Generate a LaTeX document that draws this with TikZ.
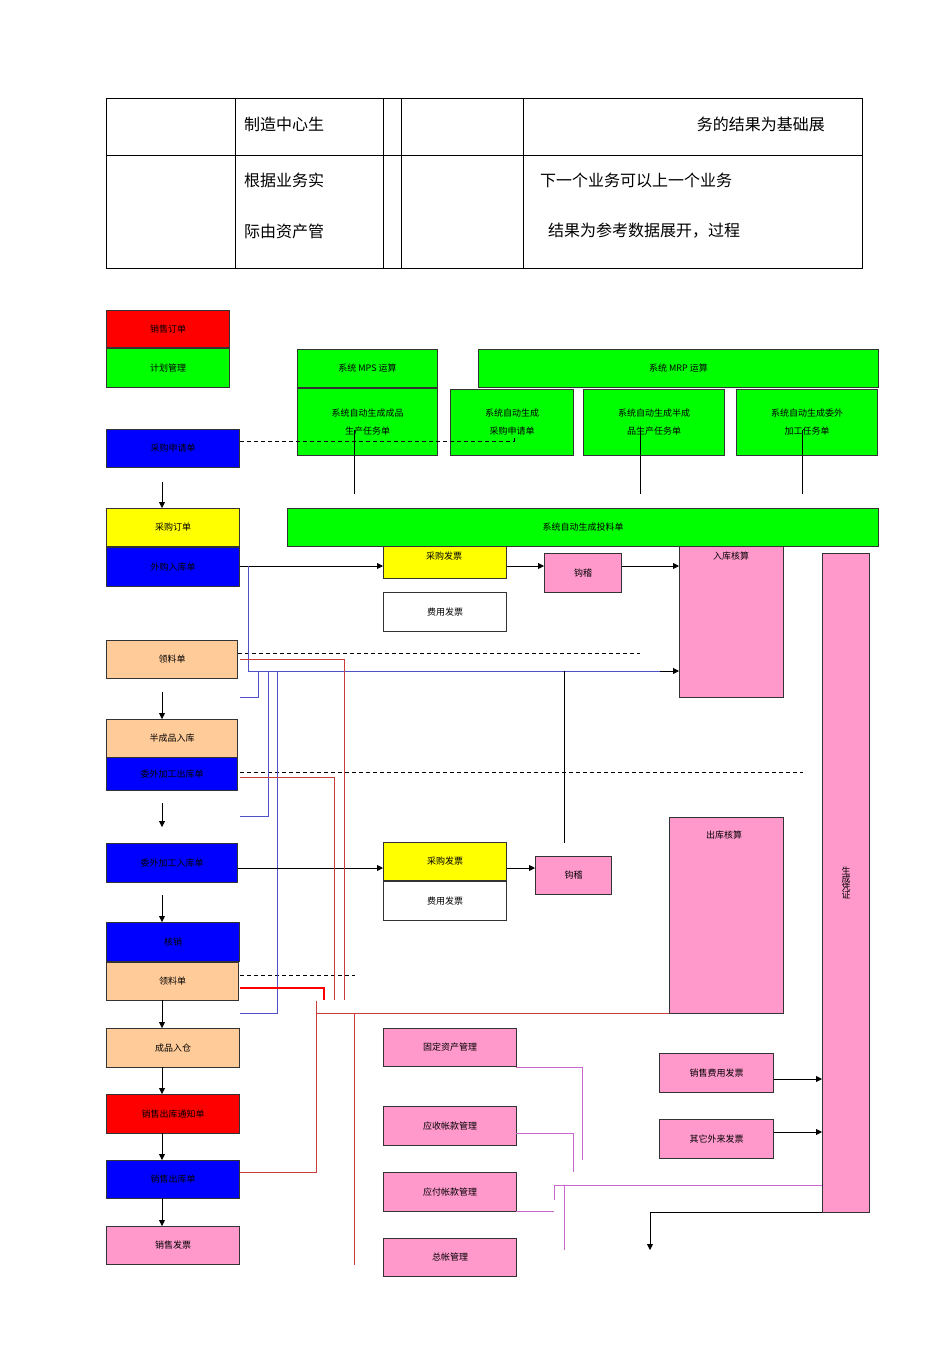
\documentclass[tikz,border=0pt]{standalone}
\usepackage{fontspec}
\setmainfont{Noto Sans CJK SC}
\usetikzlibrary{arrows.meta}
\definecolor{gr}{RGB}{0,255,0}
\definecolor{bl}{RGB}{0,0,255}
\definecolor{ye}{RGB}{255,255,0}
\definecolor{pe}{RGB}{255,204,153}
\definecolor{pk}{RGB}{255,153,204}
\definecolor{rd}{RGB}{255,0,0}
\definecolor{vl}{RGB}{204,102,204}
\definecolor{bline}{RGB}{80,80,200}
\definecolor{rline}{RGB}{200,60,60}
\begin{document}
\begin{tikzpicture}[x=1pt,y=-1pt,
 bx/.style={draw=black!80,line width=1pt,inner sep=0pt,anchor=north west,font=\fontsize{9}{10}\selectfont,align=center},
 arr/.style={-{Triangle[length=6pt,width=6pt]},line width=0.8pt},
 dsh/.style={dashed,line width=1pt,dash pattern=on 4pt off 3pt},
 tt/.style={font=\fontsize{16}{18}\selectfont,inner sep=0pt}]
\useasboundingbox (0,0) rectangle (950,1345);
% table
\draw[line width=0.6pt] (106,98) rectangle (862,268);
\draw[line width=0.6pt] (106,155) -- (862,155);
\foreach \x in {235,383,401,523} \draw[line width=0.6pt] (\x,98) -- (\x,268);
\node[tt,anchor=west] (t1) at (244,124) {制造中心生};
\node[tt,anchor=west] (t2) at (244,180) {根据业务实};
\node[tt,anchor=west] (t3) at (244,231) {际由资产管};
\node[tt,anchor=east] (t4) at (825,124) {务的结果为基础展};
\node[tt,anchor=west] (t5) at (540,180) {下一个业务可以上一个业务};
\node[tt,anchor=west] (t6) at (548,231) {结果为参考数据展开，过程};
% left column
\newcommand{\bxx}[7]{\node[bx,fill=#2,minimum width=#5-#3,minimum height=#6-#4] (#1) at (#3,#4) {#7};}
\bxx{so}{rd}{106}{310}{229}{347}{销售订单}
\bxx{jh}{gr}{106}{348}{229}{387}{计划管理}
\bxx{sq}{bl}{106}{429}{239}{467}{采购申请单}
\bxx{cd}{ye}{106}{508}{239}{546}{采购订单}
\bxx{wg}{bl}{106}{547}{239}{586}{外购入库单}
\bxx{ll}{pe}{106}{640}{237}{678}{领料单}
\bxx{bc}{pe}{106}{719}{237}{757}{半成品入库}
\bxx{wc}{bl}{106}{757}{237}{790}{委外加工出库单}
\bxx{wr}{bl}{106}{843}{237}{882}{委外加工入库单}
\bxx{hx}{bl}{106}{922}{239}{961}{核销}
\bxx{ll2}{pe}{106}{962}{238}{1000}{领料单}
\bxx{cp}{pe}{106}{1028}{239}{1067}{成品入仓}
\bxx{tz}{rd}{106}{1094}{239}{1133}{销售出库通知单}
\bxx{ck}{bl}{106}{1160}{239}{1198}{销售出库单}
\bxx{fp}{pk}{106}{1226}{239}{1264}{销售发票}
\coordinate (a1) at (162,482); \coordinate (a2) at (162,692); \coordinate (a3) at (162,803); \coordinate (a4) at (162,895);
\draw[arr] (a1) -- (cd.north-|a1);
\draw[arr] (a2) -- (bc.north-|a2);
\draw[arr] (a3) -- (162,827);
\draw[arr] (a4) -- (hx.north-|a4);
\draw[arr] (162,1000) -- (cp.north-|a1);
\draw[arr] (162,1067) -- (tz.north-|a1);
\draw[arr] (162,1133) -- (ck.north-|a1);
\draw[arr] (162,1198) -- (fp.north-|a1);
% green top
\bxx{mps}{gr}{297}{349}{437}{387}{系统 MPS 运算}
\bxx{g1}{gr}{297}{388}{437}{455}{系统自动生成成品\\[8pt]生产任务单}
\bxx{mrp}{gr}{478}{349}{878}{387}{系统 MRP 运算}
\bxx{g2}{gr}{450}{389}{573}{455}{系统自动生成\\[8pt]采购申请单}
\bxx{g3}{gr}{583}{389}{724}{455}{系统自动生成半成\\[8pt]品生产任务单}
\bxx{g4}{gr}{736}{389}{877}{455}{系统自动生成委外\\[8pt]加工任务单}
\bxx{tl}{gr}{287}{508}{878}{546}{系统自动生成投料单}
\foreach \x in {354,640,802} \draw[line width=0.6pt] (\x,430) -- (\x,494);
\draw[dsh] (sq.east|-0,441) -- (514,441) -- (514,436);
% purchase row
\bxx{cf}{ye}{383}{546}{506}{578}{}
\node[font=\fontsize{9}{10}\selectfont,anchor=north] (cft) at (444,548) {采购发票};
\bxx{fy}{white}{383}{592}{506}{631}{费用发票}
\bxx{gj}{pk}{544}{553}{621}{592}{钩稽}
\bxx{rk}{pk}{679}{546}{783}{697}{}
\node[font=\fontsize{9}{10}\selectfont,anchor=north] (rkt) at (731,548) {入库核算};
\bxx{pz}{pk}{822}{553}{869}{1212}{生\\[-2pt]成\\[-2pt]凭\\[-2pt]证}
\draw[arr] (wg.east|-0,566) -- (cf.west|-0,566);
\draw[arr] (cf.east|-0,566) -- (gj.west|-0,566);
\draw[arr] (gj.east|-0,566) -- (rk.west|-0,566);
\draw[dsh] (ll.east|-0,653) -- (640,653);
\draw[dsh,line width=0.7pt] (240,772) -- (803,772);
\draw[dsh,line width=0.7pt] (240,975) -- (355,975);
% blue lines
\draw[bline,line width=0.7pt] (248,566) -- (248,671) -- (672,671);
\draw[arr] (660,671) -- (rk.west|-0,671);
\draw[bline,line width=0.7pt] (240,697) -- (258,697) -- (258,671);
\draw[bline,line width=0.7pt] (240,816) -- (268,816) -- (268,671);
\draw[bline,line width=0.7pt] (240,1013) -- (277,1013) -- (277,671);
% second purchase
\bxx{cf2}{ye}{383}{842}{506}{880}{采购发票}
\bxx{fy2}{white}{383}{881}{506}{920}{费用发票}
\bxx{gj2}{pk}{535}{856}{611}{894}{钩稽}
\draw[arr] (wr.east|-0,868) -- (cf2.west|-0,868);
\draw[arr] (cf2.east|-0,868) -- (gj2.west|-0,868);
\draw[line width=0.7pt] (564,843) -- (564,671);
\bxx{ckh}{pk}{669}{817}{783}{1013}{}
\node[font=\fontsize{9}{10}\selectfont,anchor=north] (ckt) at (724,827) {出库核算};
% red lines
\draw[rline,line width=0.7pt] (240,659) -- (344,659) -- (344,1000);
\draw[rline,line width=0.7pt] (240,777) -- (334,777) -- (334,1000);
\draw[rd,line width=1.2pt] (240,988) -- (324,988) -- (324,1000);
\draw[rline,line width=0.7pt] (240,1172) -- (316,1172) -- (316,1001);
\draw[rline,line width=0.7pt] (316,1013) -- (ckh.west|-0,1013);
\draw[rline,line width=0.7pt] (354,1013) -- (354,1265);
% finance
\bxx{gd}{pk}{383}{1028}{516}{1066}{固定资产管理}
\bxx{ys}{pk}{383}{1106}{516}{1145}{应收帐款管理}
\bxx{yf}{pk}{383}{1172}{516}{1211}{应付帐款管理}
\bxx{zz}{pk}{383}{1238}{516}{1276}{总帐管理}
\bxx{xf}{pk}{659}{1053}{773}{1092}{销售费用发票}
\bxx{qt}{pk}{659}{1119}{773}{1158}{其它外来发票}
\draw[arr] (xf.east|-0,1079) -- (pz.west|-0,1079);
\draw[arr] (qt.east|-0,1132) -- (pz.west|-0,1132);
\draw[vl,line width=0.8pt] (516,1067) -- (582,1067) -- (582,1160);
\draw[vl,line width=0.8pt] (516,1133) -- (573,1133) -- (573,1172);
\draw[vl,line width=0.8pt] (516,1211) -- (554,1211);
\draw[vl,line width=0.8pt] (pz.west|-0,1185) -- (554,1185) -- (554,1200);
\draw[vl,line width=0.8pt] (564,1185) -- (564,1250);
\draw[arr] (pz.west|-0,1212) -- (650,1212) -- (650,1250);
\end{tikzpicture}
\end{document}
